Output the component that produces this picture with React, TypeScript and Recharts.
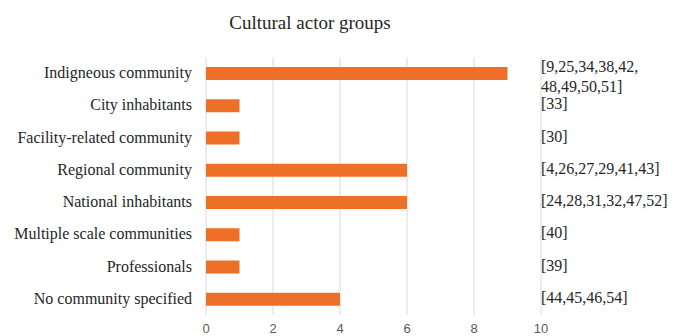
import React from 'react';
import { BarChart, Bar, XAxis, YAxis, CartesianGrid } from 'recharts';

const groups = [
  'Indigneous community',
  'City inhabitants',
  'Facility-related community',
  'Regional community',
  'National inhabitants',
  'Multiple scale communities',
  'Professionals',
  'No community specified',
];
const counts = [9, 1, 1, 6, 6, 1, 1, 4];
const references = [
  '[9,25,34,38,42,\n48,49,50,51]',
  '[33]',
  '[30]',
  '[4,26,27,29,41,43]',
  '[24,28,31,32,47,52]',
  '[40]',
  '[39]',
  '[44,45,46,54]',
];
const xTicks = [0, 2, 4, 6, 8, 10];

const data = groups.map((group, i) => ({ group, count: counts[i], refs: references[i] }));

const serif = '"Liberation Serif", "Times New Roman", serif';

function GroupTick({ x, y, payload }: any) {
  return (
    <text x={x - 6} y={y} dy={5} textAnchor="end" fontFamily={serif} fontSize={16} fill="#262626">
      {payload.value}
    </text>
  );
}

function RefTick({ x, y, payload }: any) {
  const lines = String(payload.value).split('\n');
  const start = lines.length > 1 ? -6 : -1;
  return (
    <text x={x} y={y} textAnchor="start" fontFamily={serif} fontSize={16} fill="#262626">
      {lines.map((line, i) => (
        <tspan key={i} x={x} dy={i === 0 ? start + 5 : 20}>
          {line}
        </tspan>
      ))}
    </text>
  );
}

function ValueTick({ x, payload }: any) {
  return (
    <text x={x} y={333} textAnchor="middle" fontFamily='"Liberation Sans", Arial, sans-serif' fontSize={13} fill="#595959">
      {payload.value}
    </text>
  );
}

export default function App() {
  return (
    <div style={{ position: 'absolute', left: 0, top: 0, width: 680, height: 336, background: '#fff' }}>
      <div
        style={{
          position: 'absolute',
          left: 0,
          top: 11,
          width: 620,
          textAlign: 'center',
          fontFamily: serif,
          fontSize: 19,
          color: '#262626',
          lineHeight: '24px',
        }}
      >
        Cultural actor groups
      </div>
      <BarChart
        width={680}
        height={336}
        data={data}
        layout="vertical"
        margin={{ top: 57, right: 0, bottom: 0, left: 0 }}
        barSize={13}
      >
        <CartesianGrid horizontal={false} stroke="#d9d9d9" />
        <XAxis
          type="number"
          domain={[0, 10]}
          ticks={xTicks}
          axisLine={false}
          tickLine={false}
          height={21}
          tick={<ValueTick />}
        />
        <YAxis
          type="category"
          dataKey="group"
          width={206}
          axisLine={false}
          tickLine={false}
          tick={<GroupTick />}
          interval={0}
        />
        <YAxis
          yAxisId="refs"
          orientation="right"
          type="category"
          dataKey="refs"
          width={139}
          axisLine={false}
          tickLine={false}
          tickSize={0}
          tickMargin={0}
          tick={<RefTick />}
          interval={0}
        />
        <Bar dataKey="count" fill="#ee7028" isAnimationActive={false} />
      </BarChart>
    </div>
  );
}
